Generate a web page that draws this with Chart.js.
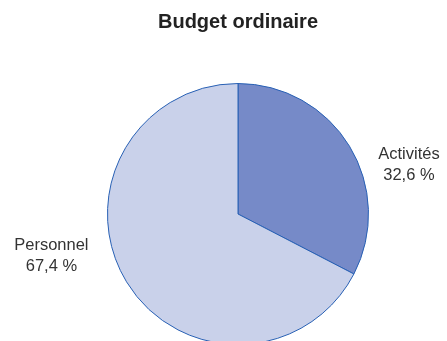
<!DOCTYPE html>
<html>
<head>
<meta charset="utf-8">
<title>Budget ordinaire</title>
<script src="https://cdn.jsdelivr.net/npm/chart.js@4/dist/chart.umd.min.js"></script>
<style>
  html, body { margin: 0; padding: 0; background: #fff; overflow: hidden; }
  #wrap { position: relative; width: 447px; height: 341px; overflow: hidden; }
  #budget-chart { position: absolute; left: 0; top: 0; }
</style>
</head>
<body>
<div id="wrap">
  <canvas id="budget-chart" width="447" height="362"></canvas>
</div>
<script>
'use strict';

// Budget shares, in percent
let categories = ['Activités', 'Personnel'];
let shares = [32.6, 67.4];
let shareLabels = ['32,6 %', '67,4 %'];

let sliceColors = ['#768ac8', '#c9d1ea'];

// Where each name/percent pair sits, relative to the pie centre (in radii)
let labelSpots = [
  { dx: 1.31, dy: -0.425 },
  { dx: -1.43, dy: 0.273 }
];

let ctx = document.getElementById('budget-chart');

// Writes the category name and share next to each slice
let sliceLabels = {
  id: 'sliceLabels',
  afterDatasetsDraw(chart) {
    let arcs = chart.getDatasetMeta(0).data;
    if (!arcs.length) return;
    let cx = arcs[0].x;
    let cy = arcs[0].y;
    let r = arcs[0].outerRadius;
    let c = chart.ctx;
    c.save();
    c.fillStyle = '#333333';
    c.font = '300 16.5px "Liberation Sans", Arial, sans-serif';
    c.textAlign = 'center';
    c.textBaseline = 'alphabetic';
    for (let i = 0; i < categories.length; i++) {
      let x = cx + labelSpots[i].dx * r;
      let y = cy + labelSpots[i].dy * r;
      c.fillText(categories[i], x, y);
      c.fillText(shareLabels[i], x, y + 21);
    }
    c.restore();
  }
};

let chartObject = {
  type: 'pie',
  data: {
    labels: categories,
    datasets: [{
      data: shares,
      backgroundColor: sliceColors,
      borderColor: '#2860b4',
      borderWidth: 1,
      hoverOffset: 0
    }]
  },
  options: {
    responsive: false,
    animation: false,
    layout: {
      padding: { top: 6, left: 107, right: 78, bottom: 17 }
    },
    plugins: {
      legend: { display: false },
      tooltip: { enabled: false },
      title: {
        display: true,
        text: 'Budget ordinaire',
        fullSize: false,
        color: '#222222',
        font: { family: '"Liberation Sans", Arial, sans-serif', size: 20, weight: 'bold' },
        padding: { top: 4, bottom: 49 }
      }
    }
  },
  plugins: [sliceLabels]
};

const budgetChart = new Chart(ctx, chartObject);
</script>
</body>
</html>
